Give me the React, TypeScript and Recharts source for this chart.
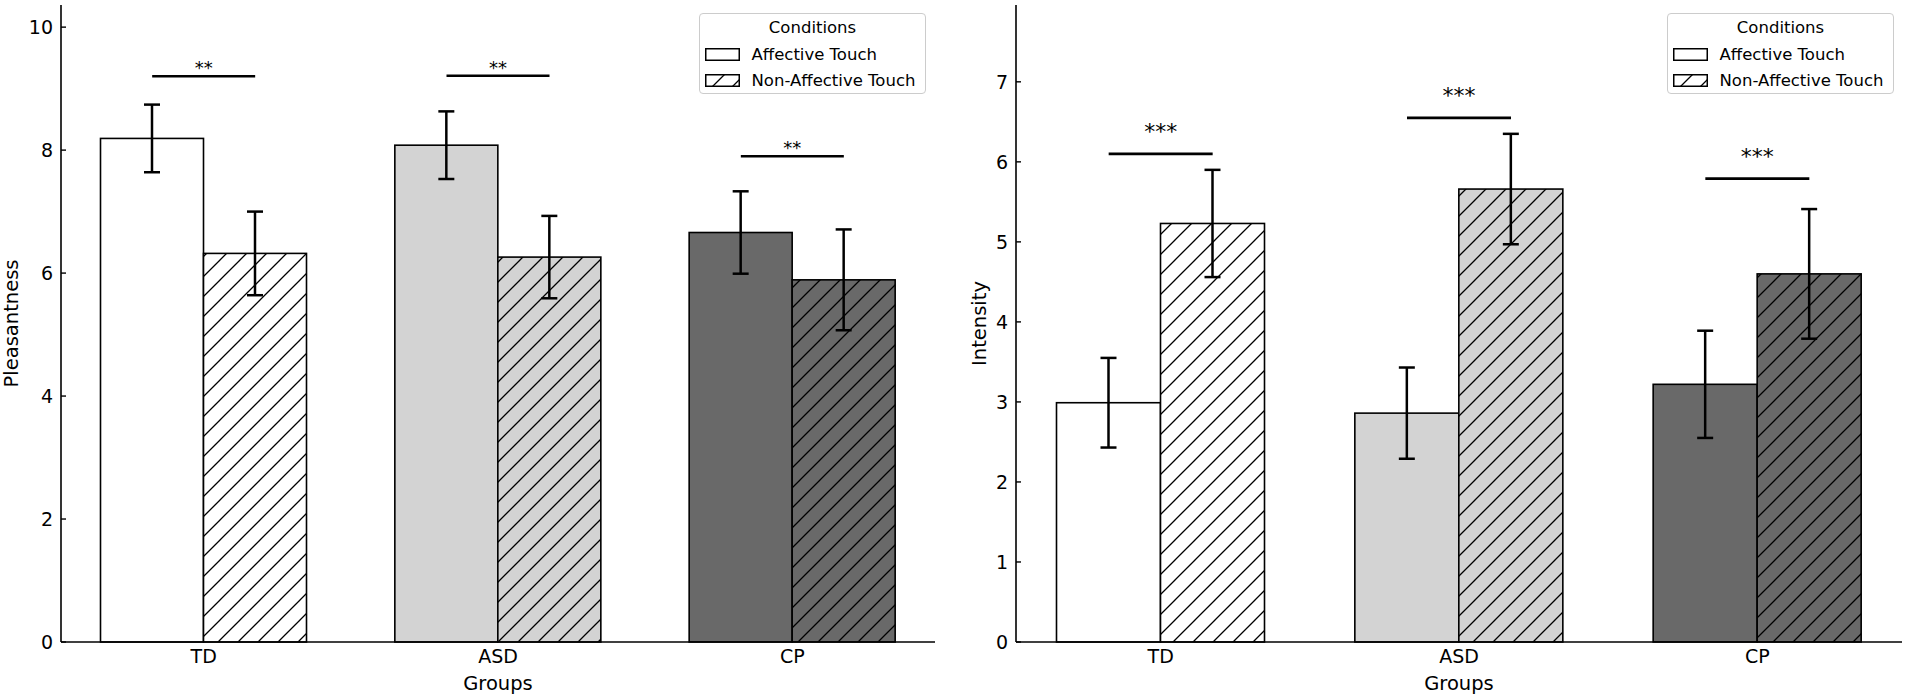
import React from 'react'
import { BarChart, Bar, XAxis, YAxis, ErrorBar, Cell, Legend, ReferenceLine } from 'recharts'

const FONT = '"DejaVu Sans", sans-serif'

const groups = ['TD', 'ASD', 'CP']
const groupFills = ['#ffffff', '#d3d3d3', '#696969']
const conditionNames = ['Affective Touch', 'Non-Affective Touch']

// left panel: Pleasantness
const pleasantnessAffective = [8.19, 8.08, 6.66]
const pleasantnessAffectiveErr = [0.55, 0.55, 0.67]
const pleasantnessNonAffective = [6.32, 6.26, 5.89]
const pleasantnessNonAffectiveErr = [0.68, 0.67, 0.82]
const pleasantnessTicks = [0, 2, 4, 6, 8, 10]
const pleasantnessSigY = [9.2, 9.21, 7.9]
const pleasantnessSigLabel = ['**', '**', '**']

// right panel: Intensity
const intensityAffective = [2.99, 2.86, 3.22]
const intensityAffectiveErr = [0.56, 0.57, 0.67]
const intensityNonAffective = [5.23, 5.66, 4.6]
const intensityNonAffectiveErr = [0.67, 0.69, 0.81]
const intensityTicks = [0, 1, 2, 3, 4, 5, 6, 7]
const intensitySigY = [6.1, 6.55, 5.79]
const intensitySigLabel = ['***', '***', '***']

function HatchPattern({ id }: { id: string }) {
  return (
    <pattern id={id} patternUnits="userSpaceOnUse" width={20} height={20}>
      <path d="M0,20 L20,0 M-5,5 L5,-5 M15,25 L25,15" stroke="#000" strokeWidth={1.3} />
    </pattern>
  )
}

const makeBarShape = (hatched: boolean, patternId: string) => (props: any) => {
  const { x, y, width, height, fill } = props
  return (
    <g>
      <rect x={x} y={y} width={width} height={height} fill={fill} />
      {hatched && (
        <>
          <defs>
            <HatchPattern id={patternId} />
          </defs>
          <rect x={x} y={y} width={width} height={height} fill={`url(#${patternId})`} />
        </>
      )}
      <rect x={x} y={y} width={width} height={height} fill="none" stroke="#000" strokeWidth={1.6} />
    </g>
  )
}

const YTick = (props: any) => {
  const { x, y, payload } = props
  return (
    <g>
      <line x1={x + 8} x2={x + 13} y1={y} y2={y} stroke="#000" strokeWidth={1.4} />
      <text x={x} y={y} dy="0.355em" textAnchor="end" fontSize={19} fontFamily={FONT} fill="#000">
        {payload.value}
      </text>
    </g>
  )
}

const makeSigShape = (label: string, halfWidth: number, gap: number, fontSize: number) => (props: any) => {
  const { x1, y1 } = props
  return (
    <g>
      <line x1={x1 - halfWidth} x2={x1 + halfWidth} y1={y1} y2={y1} stroke="#000" strokeWidth={2.6} />
      <text x={x1} y={y1 - gap} textAnchor="middle" fontSize={fontSize} fontFamily={FONT} fill="#000">
        {label}
      </text>
    </g>
  )
}

function ConditionsLegend({ payload, id }: { payload?: any[]; id: string }) {
  return (
    <div
      style={{
        boxSizing: 'border-box',
        width: 227,
        height: 81,
        border: '1.5px solid #cccccc',
        borderRadius: 4,
        background: 'rgba(255,255,255,0.8)',
        fontFamily: FONT,
        fontSize: 16.5,
        color: '#000',
      }}
    >
      <div style={{ height: 27, lineHeight: '27px', textAlign: 'center' }}>Conditions</div>
      {(payload || []).map((entry) => {
        const hatched = entry.dataKey === 'nonAffective'
        return (
          <div key={entry.dataKey} style={{ height: 26, display: 'flex', alignItems: 'center' }}>
            <svg width={35} height={13} style={{ marginLeft: 4.5, marginRight: 12, flex: 'none' }}>
              <defs>
                <HatchPattern id={`${id}-legend-hatch`} />
              </defs>
              <rect x={0.75} y={0.75} width={33.5} height={11.5} fill="#fff" />
              {hatched && <rect x={0.75} y={0.75} width={33.5} height={11.5} fill={`url(#${id}-legend-hatch)`} />}
              <rect x={0.75} y={0.75} width={33.5} height={11.5} fill="none" stroke="#000" strokeWidth={1.5} />
            </svg>
            <span style={{ whiteSpace: 'nowrap' }}>{entry.value}</span>
          </div>
        )
      })}
    </div>
  )
}

interface PanelProps {
  id: string
  left: number
  width: number
  marginRight: number
  barSize: number
  affective: number[]
  affectiveErr: number[]
  nonAffective: number[]
  nonAffectiveErr: number[]
  yMax: number
  ticks: number[]
  yLabel: string
  yLabelOffset: number
  sigY: number[]
  sigLabel: string[]
  sigGap: number
  sigFontSize: number
  legendLeft: number
}

function Panel(p: PanelProps) {
  const data = groups.map((group, i) => ({
    group,
    affective: p.affective[i],
    affectiveErr: p.affectiveErr[i],
    nonAffective: p.nonAffective[i],
    nonAffectiveErr: p.nonAffectiveErr[i],
  }))

  return (
    <div style={{ position: 'absolute', left: p.left, top: 0 }}>
      <BarChart
        width={p.width}
        height={699}
        data={data}
        margin={{ top: 5, right: p.marginRight, bottom: 0, left: 0 }}
        barGap={0}
        barSize={p.barSize}
      >
        <XAxis
          dataKey="group"
          height={57}
          padding={{ left: -4.5, right: -4.5 }}
          tickLine={false}
          tickSize={0}
          tickMargin={8}
          axisLine={{ stroke: '#000', strokeWidth: 1.6 }}
          tick={{ fill: '#000', fontSize: 19, fontFamily: FONT }}
          label={{ value: 'Groups', position: 'insideBottom', offset: 9, fill: '#000', fontSize: 19.5, fontFamily: FONT }}
        />
        <YAxis
          type="number"
          width={61}
          domain={[0, p.yMax]}
          ticks={p.ticks}
          interval={0}
          tickLine={false}
          tickSize={0}
          tickMargin={8}
          tick={<YTick />}
          axisLine={{ stroke: '#000', strokeWidth: 1.6 }}
          label={{
            value: p.yLabel,
            angle: -90,
            position: 'insideLeft',
            offset: p.yLabelOffset,
            fill: '#000',
            fontSize: 19.5,
            fontFamily: FONT,
            style: { textAnchor: 'middle' },
          }}
        />
        <Legend
          layout="horizontal"
          verticalAlign="middle"
          align="center"
          wrapperStyle={{ left: p.legendLeft, top: 13, width: 227, height: 81 }}
          content={(props: any) => <ConditionsLegend payload={props.payload} id={p.id} />}
        />
        <Bar dataKey="affective" name={conditionNames[0]} isAnimationActive={false} shape={makeBarShape(false, `${p.id}-hatch-a`)}>
          {data.map((_, i) => (
            <Cell key={`a-${i}`} fill={groupFills[i]} />
          ))}
          <ErrorBar dataKey="affectiveErr" width={8} strokeWidth={2.5} stroke="#000" />
        </Bar>
        <Bar dataKey="nonAffective" name={conditionNames[1]} isAnimationActive={false} shape={makeBarShape(true, `${p.id}-hatch`)}>
          {data.map((_, i) => (
            <Cell key={`n-${i}`} fill={groupFills[i]} />
          ))}
          <ErrorBar dataKey="nonAffectiveErr" width={8} strokeWidth={2.5} stroke="#000" />
        </Bar>
        {p.sigY.map((v, i) => (
          <ReferenceLine
            key={`sig-${i}`}
            segment={[
              { x: groups[i], y: v },
              { x: groups[i], y: v },
            ]}
            shape={makeSigShape(p.sigLabel[i], p.barSize / 2, p.sigGap, p.sigFontSize)}
          />
        ))}
      </BarChart>
    </div>
  )
}

export default function App() {
  return (
    <div style={{ position: 'absolute', left: 0, top: 0, width: 1907, height: 699, background: '#fff', fontFamily: FONT }}>
      <Panel
        id="pleas"
        left={0}
        width={950}
        marginRight={15}
        barSize={103}
        affective={pleasantnessAffective}
        affectiveErr={pleasantnessAffectiveErr}
        nonAffective={pleasantnessNonAffective}
        nonAffectiveErr={pleasantnessNonAffectiveErr}
        yMax={10.36}
        ticks={pleasantnessTicks}
        yLabel="Pleasantness"
        yLabelOffset={11}
        sigY={pleasantnessSigY}
        sigLabel={pleasantnessSigLabel}
        sigGap={2}
        sigFontSize={18}
        legendLeft={699}
      />
      <Panel
        id="inten"
        left={955}
        width={952}
        marginRight={5}
        barSize={104}
        affective={intensityAffective}
        affectiveErr={intensityAffectiveErr}
        nonAffective={intensityNonAffective}
        nonAffectiveErr={intensityNonAffectiveErr}
        yMax={7.96}
        ticks={intensityTicks}
        yLabel="Intensity"
        yLabelOffset={24}
        sigY={intensitySigY}
        sigLabel={intensitySigLabel}
        sigGap={15}
        sigFontSize={22}
        legendLeft={712}
      />
    </div>
  )
}
